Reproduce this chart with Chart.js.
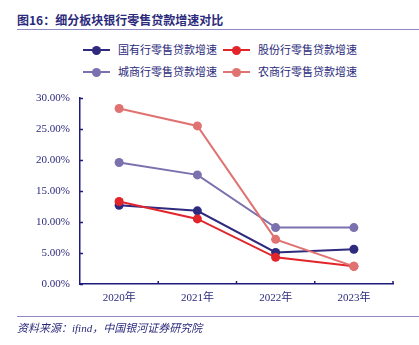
<!DOCTYPE html>
<html>
<head>
<meta charset="utf-8">
<script src="https://cdn.jsdelivr.net/npm/chart.js@4/dist/chart.umd.min.js"></script>
<style>
    body { margin: 0; background: #fff; }
    #wrap { position: relative; width: 419px; height: 345px; overflow: hidden;
        font-family: "Liberation Serif", "Noto Sans CJK SC", serif; color: #2b2a7c; }
    #title { position: absolute; left: 17px; top: 11px; font-size: 12px; font-weight: bold;
        font-family: "Noto Sans CJK SC", sans-serif; color: #2b2a7c; white-space: nowrap; }
    #titleLine { position: absolute; left: 17px; right: 0; top: 29px; border-top: 1px solid #8e89c4; }
    #footLine { position: absolute; left: 17px; right: 0; top: 316px; border-top: 1px solid #8e89c4; }
    #source { position: absolute; left: 17px; top: 319px; font-size: 11px; font-style: italic;
        white-space: nowrap; color: #2b2a7c; }
    .legend-item { position: absolute; height: 14px; font-size: 11px; white-space: nowrap; line-height: 14px; }
    .legend-item .sym { position: absolute; left: 0; top: 6px; width: 27px; height: 2px; }
    .legend-item .dot { position: absolute; left: 9px; top: -3px; width: 9px; height: 9px; border-radius: 50%; }
    .legend-item .txt { position: absolute; left: 35px; top: 0; }
    #chart { position: absolute; left: 0; top: 0; }
</style>
</head>
<body>
<div id="wrap">
    <div id="title">图16：细分板块银行零售贷款增速对比</div>
    <div id="titleLine"></div>
    <div id="legend"></div>
    <canvas id="chart" width="419" height="345"></canvas>
    <div id="footLine"></div>
    <div id="source">资料来源：ifind，中国银河证券研究院</div>
</div>
<script>
// 年份与各类银行零售贷款增速（%）
const years = ['2020年', '2021年', '2022年', '2023年'];
const stateOwned = [12.7, 11.8, 5.1, 5.6];
const jointStock = [13.3, 10.5, 4.3, 2.85];
const cityBanks = [19.6, 17.6, 9.1, 9.1];
const ruralBanks = [28.3, 25.5, 7.2, 2.85];
const seriesNames = ['国有行零售贷款增速', '股份行零售贷款增速', '城商行零售贷款增速', '农商行零售贷款增速'];
const seriesColors = ['#2e2a7e', '#e2252b', '#7b71ae', '#e07272'];
const yTicks = [0, 5, 10, 15, 20, 25, 30];

const axisColor = '#1f1b7a';
const textColor = '#2b2a7c';
const serifFont = 'Liberation Serif, DejaVu Serif, Noto Sans CJK SC, serif';

// 图例：两行两列
const legendPos = [[83, 43], [223, 43], [83, 65], [223, 65]];
const legendBox = document.getElementById('legend');
seriesNames.forEach((name, i) => {
    const item = document.createElement('div');
    item.className = 'legend-item';
    item.style.left = legendPos[i][0] + 'px';
    item.style.top = legendPos[i][1] + 'px';
    item.innerHTML = '<div class="sym" style="background:' + seriesColors[i] + '">' +
        '<div class="dot" style="background:' + seriesColors[i] + '"></div></div>' +
        '<div class="txt">' + name + '</div>';
    legendBox.appendChild(item);
});

// 坐标轴内侧刻度线
const innerTicks = {
    id: 'innerTicks',
    afterDraw(chart) {
        const ctx = chart.ctx;
        const x = chart.scales.x, y = chart.scales.y;
        ctx.save();
        ctx.strokeStyle = axisColor;
        ctx.lineWidth = 1.5;
        ctx.beginPath();
        yTicks.forEach(v => {
            const py = Math.round(y.getPixelForValue(v)) + 0.5;
            ctx.moveTo(x.left, py);
            ctx.lineTo(x.left + 3, py);
        });
        for (let i = 1; i <= years.length; i++) {
            const px = x.left + (x.right - x.left) * i / years.length;
            ctx.moveTo(px, y.bottom);
            ctx.lineTo(px, y.bottom - 3);
        }
        ctx.stroke();
        ctx.restore();
    }
};

const allData = [stateOwned, jointStock, cityBanks, ruralBanks];
const drawOrder = [3, 2, 1, 0];

const ctx = document.getElementById('chart').getContext('2d');
const myChart = new Chart(ctx, {
    type: 'line',
    data: {
        labels: years,
        datasets: allData.map((d, i) => ({
            label: seriesNames[i],
            data: d,
            borderColor: seriesColors[i],
            backgroundColor: seriesColors[i],
            borderWidth: 2,
            pointRadius: 4.5,
            pointBorderWidth: 0,
            tension: 0,
            order: drawOrder[i]
        }))
    },
    options: {
        responsive: false,
        animation: false,
        layout: { padding: { left: 0, top: 98, right: 26, bottom: 30 } },
        plugins: {
            legend: { display: false },
            tooltip: { enabled: false }
        },
        scales: {
            x: {
                offset: true,
                grid: { display: false, drawTicks: false },
                border: { display: true, color: axisColor, width: 1.5 },
                ticks: {
                    color: textColor,
                    padding: 8,
                    font: { family: serifFont, size: 11 }
                },
                afterFit: scale => { scale.height = 31; }
            },
            y: {
                min: 0,
                max: 30,
                grid: { display: false, drawTicks: false },
                border: { display: true, color: axisColor, width: 1.5 },
                afterBuildTicks: scale => { scale.ticks = yTicks.map(v => ({ value: v })); },
                ticks: {
                    color: textColor,
                    padding: 10,
                    font: { family: serifFont, size: 11 },
                    callback: v => v.toFixed(2) + '%'
                },
                afterFit: scale => { scale.width = 80; }
            }
        }
    },
    plugins: [innerTicks]
});
</script>
</body>
</html>
